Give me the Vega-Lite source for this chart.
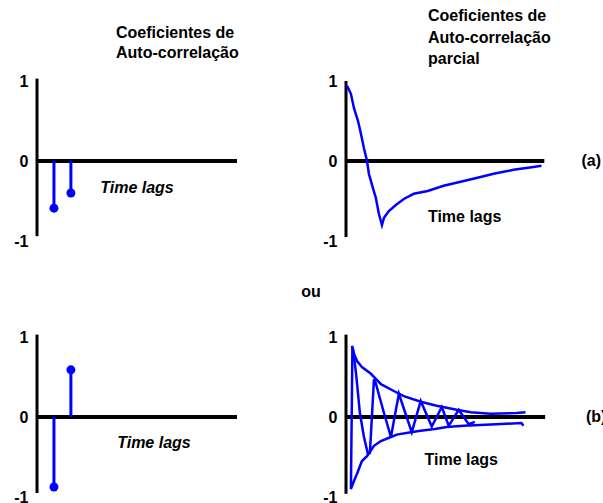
{
  "$schema": "https://vega.github.io/schema/vega-lite/v6.json",
  "background": "white",
  "padding": {"left": 13, "top": 8, "right": 0, "bottom": 0},
  "config": {
    "view": {"stroke": null},
    "axisY": {"domain": false, "ticks": false, "grid": false, "labelFont": "Liberation Sans", "labelFontSize": 16, "labelFontWeight": "bold", "labelColor": "black", "labelPadding": 9, "labelFlush": false, "labelOverlap": false, "labelExpr": "'' + datum.value"}
  },
  "bounds": "flush",
  "columns": 2,
  "spacing": {"row": 88, "column": 109},
  "concat": [
    {
      "width": 200, "height": 168,
      "title": {"text": ["Coeficientes de", "Auto-correlação"], "anchor": "start", "frame": "group", "dx": 79, "font": "Liberation Sans", "fontSize": 16, "fontWeight": "bold", "color": "black", "lineHeight": 20, "baseline": "bottom", "offset": -4},
      "layer": [
        {"data": {"values": [{}]}, "mark": {"type": "rule", "color": "black", "strokeWidth": 4},
         "encoding": {"x": {"datum": 0, "type": "quantitative", "scale": {"domain": [0, 11.8], "nice": false, "zero": false}, "axis": null}, "x2": {"datum": 11.8},
                      "y": {"datum": 0, "type": "quantitative", "scale": {"domain": [-1.05, 1.05], "nice": false, "zero": false}, "axis": {"values": [-1, 0, 1], "title": null}}}},
        {"data": {"values": [{}]}, "mark": {"type": "rule", "color": "black", "strokeWidth": 3},
         "encoding": {"x": {"datum": 0, "type": "quantitative", "scale": {"domain": [0, 11.8], "nice": false, "zero": false}, "axis": null},
                      "y": {"datum": -0.94, "type": "quantitative", "scale": {"domain": [-1.05, 1.05], "nice": false, "zero": false}, "axis": {"values": [-1, 0, 1], "title": null}}, "y2": {"datum": 1.03}}},
        {"data": {"values": [{"lag": 1, "v": -0.59}, {"lag": 2, "v": -0.4}]}, "mark": {"type": "rule", "color": "#0000ff", "strokeWidth": 3},
         "encoding": {"x": {"field": "lag", "type": "quantitative", "scale": {"domain": [0, 11.8], "nice": false, "zero": false}, "axis": null},
                      "y": {"field": "v", "type": "quantitative", "scale": {"domain": [-1.05, 1.05], "nice": false, "zero": false}, "axis": {"values": [-1, 0, 1], "title": null}}, "y2": {"datum": 0}}},
        {"data": {"values": [{"lag": 1, "v": -0.59}, {"lag": 2, "v": -0.4}]}, "mark": {"type": "point", "filled": true, "shape": "circle", "size": 80, "color": "#0000ff", "opacity": 1},
         "encoding": {"x": {"field": "lag", "type": "quantitative", "scale": {"domain": [0, 11.8], "nice": false, "zero": false}, "axis": null},
                      "y": {"field": "v", "type": "quantitative", "scale": {"domain": [-1.05, 1.05], "nice": false, "zero": false}, "axis": {"values": [-1, 0, 1], "title": null}}}},
        {"data": {"values": [{"label": "Time lags", "lag": 5.9, "v": -0.34}]},
         "mark": {"type": "text", "font": "Liberation Sans", "fontSize": 16, "fontWeight": "bold", "fontStyle": "italic", "align": "center", "baseline": "middle", "color": "black"},
         "encoding": {"x": {"field": "lag", "type": "quantitative", "scale": {"domain": [0, 11.8], "nice": false, "zero": false}, "axis": null},
                      "y": {"field": "v", "type": "quantitative", "scale": {"domain": [-1.05, 1.05], "nice": false, "zero": false}, "axis": {"values": [-1, 0, 1], "title": null}},
                      "text": {"field": "label"}}}
      ]
    },
    {
      "width": 200, "height": 168,
      "title": {"text": ["Coeficientes de", "Auto-correlação", "parcial"], "anchor": "start", "frame": "group", "dx": 82, "font": "Liberation Sans", "fontSize": 16, "fontWeight": "bold", "color": "black", "lineHeight": 21.5, "baseline": "bottom", "offset": -10},
      "layer": [
        {"data": {"values": [{}]}, "mark": {"type": "rule", "color": "black", "strokeWidth": 4},
         "encoding": {"x": {"datum": 0, "type": "quantitative", "scale": {"domain": [0, 11.8], "nice": false, "zero": false}, "axis": null}, "x2": {"datum": 11.7},
                      "y": {"datum": 0, "type": "quantitative", "scale": {"domain": [-1.05, 1.05], "nice": false, "zero": false}, "axis": {"values": [-1, 0, 1], "title": null}}}},
        {"data": {"values": [{}]}, "mark": {"type": "rule", "color": "black", "strokeWidth": 3},
         "encoding": {"x": {"datum": 0, "type": "quantitative", "scale": {"domain": [0, 11.8], "nice": false, "zero": false}, "axis": null},
                      "y": {"datum": -0.95, "type": "quantitative", "scale": {"domain": [-1.05, 1.05], "nice": false, "zero": false}, "axis": {"values": [-1, 0, 1], "title": null}}, "y2": {"datum": 1.0}}},
        {"data": {"values": [
           {"lag": 0.06, "v": 0.94}, {"lag": 0.29, "v": 0.84}, {"lag": 0.47, "v": 0.66}, {"lag": 0.71, "v": 0.5},
           {"lag": 0.88, "v": 0.34}, {"lag": 1.06, "v": 0.16}, {"lag": 1.24, "v": 0.0}, {"lag": 1.35, "v": -0.16},
           {"lag": 1.59, "v": -0.34}, {"lag": 1.76, "v": -0.46}, {"lag": 1.94, "v": -0.66}, {"lag": 2.12, "v": -0.8},
           {"lag": 2.24, "v": -0.71}, {"lag": 2.53, "v": -0.625}, {"lag": 2.94, "v": -0.55}, {"lag": 3.41, "v": -0.475},
           {"lag": 4.0, "v": -0.41}, {"lag": 4.82, "v": -0.375}, {"lag": 5.76, "v": -0.31}, {"lag": 6.76, "v": -0.26},
           {"lag": 7.76, "v": -0.21}, {"lag": 8.71, "v": -0.16}, {"lag": 9.88, "v": -0.11}, {"lag": 11.06, "v": -0.075},
           {"lag": 11.53, "v": -0.06}]},
         "mark": {"type": "line", "color": "#0000ff", "strokeWidth": 2.5},
         "encoding": {"x": {"field": "lag", "type": "quantitative", "scale": {"domain": [0, 11.8], "nice": false, "zero": false}, "axis": null},
                      "y": {"field": "v", "type": "quantitative", "scale": {"domain": [-1.05, 1.05], "nice": false, "zero": false}, "axis": {"values": [-1, 0, 1], "title": null}}}},
        {"data": {"values": [{"label": "Time lags", "lag": 7.0, "v": -0.7}, {"label": "(a)", "lag": 14.47, "v": 0.0}]},
         "mark": {"type": "text", "font": "Liberation Sans", "fontSize": 16, "fontWeight": "bold", "align": "center", "baseline": "middle", "color": "black"},
         "encoding": {"x": {"field": "lag", "type": "quantitative", "scale": {"domain": [0, 11.8], "nice": false, "zero": false}, "axis": null},
                      "y": {"field": "v", "type": "quantitative", "scale": {"domain": [-1.05, 1.05], "nice": false, "zero": false}, "axis": {"values": [-1, 0, 1], "title": null}},
                      "text": {"field": "label"},
                      "fontStyle": {"condition": {"test": "datum.label === 'Time lags'", "value": "italic"}, "value": "normal"}}}
      ]
    },
    {
      "width": 200, "height": 168,
      "layer": [
        {"data": {"values": [{}]}, "mark": {"type": "rule", "color": "black", "strokeWidth": 4},
         "encoding": {"x": {"datum": 0, "type": "quantitative", "scale": {"domain": [0, 11.8], "nice": false, "zero": false}, "axis": null}, "x2": {"datum": 11.8},
                      "y": {"datum": 0, "type": "quantitative", "scale": {"domain": [-1.05, 1.05], "nice": false, "zero": false}, "axis": {"values": [-1, 0, 1], "title": null}}}},
        {"data": {"values": [{}]}, "mark": {"type": "rule", "color": "black", "strokeWidth": 3},
         "encoding": {"x": {"datum": 0, "type": "quantitative", "scale": {"domain": [0, 11.8], "nice": false, "zero": false}, "axis": null},
                      "y": {"datum": -0.95, "type": "quantitative", "scale": {"domain": [-1.05, 1.05], "nice": false, "zero": false}, "axis": {"values": [-1, 0, 1], "title": null}}, "y2": {"datum": 1.03}}},
        {"data": {"values": [{"lag": 1, "v": -0.875}, {"lag": 2, "v": 0.59}]}, "mark": {"type": "rule", "color": "#0000ff", "strokeWidth": 3},
         "encoding": {"x": {"field": "lag", "type": "quantitative", "scale": {"domain": [0, 11.8], "nice": false, "zero": false}, "axis": null},
                      "y": {"field": "v", "type": "quantitative", "scale": {"domain": [-1.05, 1.05], "nice": false, "zero": false}, "axis": {"values": [-1, 0, 1], "title": null}}, "y2": {"datum": 0}}},
        {"data": {"values": [{"lag": 1, "v": -0.875}, {"lag": 2, "v": 0.59}]}, "mark": {"type": "point", "filled": true, "shape": "circle", "size": 80, "color": "#0000ff", "opacity": 1},
         "encoding": {"x": {"field": "lag", "type": "quantitative", "scale": {"domain": [0, 11.8], "nice": false, "zero": false}, "axis": null},
                      "y": {"field": "v", "type": "quantitative", "scale": {"domain": [-1.05, 1.05], "nice": false, "zero": false}, "axis": {"values": [-1, 0, 1], "title": null}}}},
        {"data": {"values": [{"label": "Time lags", "lag": 6.9, "v": -0.33}]},
         "mark": {"type": "text", "font": "Liberation Sans", "fontSize": 16, "fontWeight": "bold", "fontStyle": "italic", "align": "center", "baseline": "middle", "color": "black"},
         "encoding": {"x": {"field": "lag", "type": "quantitative", "scale": {"domain": [0, 11.8], "nice": false, "zero": false}, "axis": null},
                      "y": {"field": "v", "type": "quantitative", "scale": {"domain": [-1.05, 1.05], "nice": false, "zero": false}, "axis": {"values": [-1, 0, 1], "title": null}},
                      "text": {"field": "label"}}}
      ]
    },
    {
      "width": 200, "height": 168,
      "layer": [
        {"data": {"values": [{}]}, "mark": {"type": "rule", "color": "black", "strokeWidth": 4},
         "encoding": {"x": {"datum": 0, "type": "quantitative", "scale": {"domain": [0, 11.8], "nice": false, "zero": false}, "axis": null}, "x2": {"datum": 11.75},
                      "y": {"datum": 0, "type": "quantitative", "scale": {"domain": [-1.05, 1.05], "nice": false, "zero": false}, "axis": {"values": [-1, 0, 1], "title": null}}}},
        {"data": {"values": [{}]}, "mark": {"type": "rule", "color": "black", "strokeWidth": 3},
         "encoding": {"x": {"datum": 0, "type": "quantitative", "scale": {"domain": [0, 11.8], "nice": false, "zero": false}, "axis": null},
                      "y": {"datum": -0.96, "type": "quantitative", "scale": {"domain": [-1.05, 1.05], "nice": false, "zero": false}, "axis": {"values": [-1, 0, 1], "title": null}}, "y2": {"datum": 1.03}}},
        {"data": {"values": [
           {"s": "upper", "i": 0, "lag": 0.35, "v": 0.89}, {"s": "upper", "i": 1, "lag": 0.47, "v": 0.79},
           {"s": "upper", "i": 2, "lag": 0.65, "v": 0.7}, {"s": "upper", "i": 3, "lag": 0.94, "v": 0.625},
           {"s": "upper", "i": 4, "lag": 1.47, "v": 0.54}, {"s": "upper", "i": 5, "lag": 2.06, "v": 0.41},
           {"s": "upper", "i": 6, "lag": 2.82, "v": 0.325}, {"s": "upper", "i": 7, "lag": 3.41, "v": 0.26},
           {"s": "upper", "i": 8, "lag": 4.41, "v": 0.19}, {"s": "upper", "i": 9, "lag": 5.35, "v": 0.14},
           {"s": "upper", "i": 10, "lag": 6.53, "v": 0.09}, {"s": "upper", "i": 11, "lag": 7.35, "v": 0.06},
           {"s": "upper", "i": 12, "lag": 8.53, "v": 0.04}, {"s": "upper", "i": 13, "lag": 10.06, "v": 0.05},
           {"s": "upper", "i": 14, "lag": 10.59, "v": 0.06},
           {"s": "lower", "i": 0, "lag": 0.38, "v": 0.88}, {"s": "lower", "i": 1, "lag": 0.29, "v": -0.9},
           {"s": "lower", "i": 2, "lag": 0.47, "v": -0.8}, {"s": "lower", "i": 3, "lag": 0.65, "v": -0.71},
           {"s": "lower", "i": 4, "lag": 0.94, "v": -0.55}, {"s": "lower", "i": 5, "lag": 1.24, "v": -0.49},
           {"s": "lower", "i": 6, "lag": 1.65, "v": -0.36}, {"s": "lower", "i": 7, "lag": 2.06, "v": -0.3},
           {"s": "lower", "i": 8, "lag": 2.65, "v": -0.25}, {"s": "lower", "i": 9, "lag": 3.0, "v": -0.22},
           {"s": "lower", "i": 10, "lag": 3.82, "v": -0.19}, {"s": "lower", "i": 11, "lag": 4.29, "v": -0.175},
           {"s": "lower", "i": 12, "lag": 5.24, "v": -0.15}, {"s": "lower", "i": 13, "lag": 5.94, "v": -0.125},
           {"s": "lower", "i": 14, "lag": 6.94, "v": -0.11}, {"s": "lower", "i": 15, "lag": 8.88, "v": -0.09},
           {"s": "lower", "i": 16, "lag": 10.35, "v": -0.075}, {"s": "lower", "i": 17, "lag": 10.47, "v": -0.11},
           {"s": "osc", "i": 0, "lag": 0.41, "v": 0.85}, {"s": "osc", "i": 1, "lag": 0.59, "v": 0.55},
           {"s": "osc", "i": 2, "lag": 0.82, "v": 0.05}, {"s": "osc", "i": 3, "lag": 1.06, "v": -0.25},
           {"s": "osc", "i": 4, "lag": 1.29, "v": -0.46}, {"s": "osc", "i": 5, "lag": 1.41, "v": -0.45},
           {"s": "osc", "i": 6, "lag": 1.65, "v": 0.47}, {"s": "osc", "i": 7, "lag": 1.76, "v": 0.42},
           {"s": "osc", "i": 8, "lag": 2.24, "v": 0.05}, {"s": "osc", "i": 9, "lag": 2.65, "v": -0.25},
           {"s": "osc", "i": 10, "lag": 3.12, "v": 0.29}, {"s": "osc", "i": 11, "lag": 3.88, "v": -0.19},
           {"s": "osc", "i": 12, "lag": 4.41, "v": 0.2}, {"s": "osc", "i": 13, "lag": 5.06, "v": -0.12},
           {"s": "osc", "i": 14, "lag": 5.65, "v": 0.125}, {"s": "osc", "i": 15, "lag": 6.06, "v": -0.11},
           {"s": "osc", "i": 16, "lag": 6.65, "v": 0.09}, {"s": "osc", "i": 17, "lag": 7.24, "v": -0.09},
           {"s": "osc", "i": 18, "lag": 7.6, "v": -0.06}]},
         "mark": {"type": "line", "color": "#0000ff", "strokeWidth": 2.5},
         "encoding": {"x": {"field": "lag", "type": "quantitative", "scale": {"domain": [0, 11.8], "nice": false, "zero": false}, "axis": null},
                      "y": {"field": "v", "type": "quantitative", "scale": {"domain": [-1.05, 1.05], "nice": false, "zero": false}, "axis": {"values": [-1, 0, 1], "title": null}},
                      "detail": {"field": "s", "type": "nominal"},
                      "order": {"field": "i", "type": "quantitative"}}},
        {"data": {"values": [{"label": "Time lags", "lag": 6.8, "v": -0.54}, {"label": "(b)", "lag": 14.76, "v": 0.0}, {"label": "ou", "lag": -2.06, "v": 1.56}]},
         "mark": {"type": "text", "font": "Liberation Sans", "fontSize": 16, "fontWeight": "bold", "align": "center", "baseline": "middle", "color": "black"},
         "encoding": {"x": {"field": "lag", "type": "quantitative", "scale": {"domain": [0, 11.8], "nice": false, "zero": false}, "axis": null},
                      "y": {"field": "v", "type": "quantitative", "scale": {"domain": [-1.05, 1.05], "nice": false, "zero": false}, "axis": {"values": [-1, 0, 1], "title": null}},
                      "text": {"field": "label"},
                      "fontStyle": {"condition": {"test": "datum.label === 'Time lags'", "value": "italic"}, "value": "normal"}}}
      ]
    }
  ]
}
